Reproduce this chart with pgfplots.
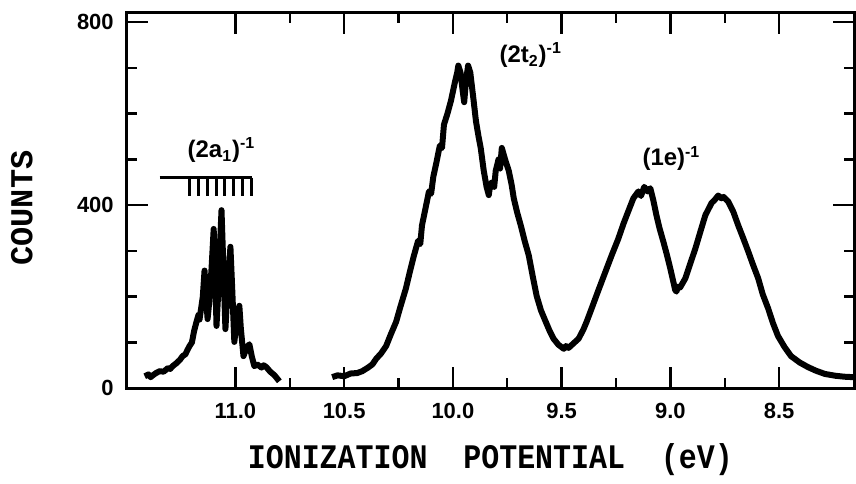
\documentclass[border=0pt]{standalone}
\usepackage{fontspec}
\setsansfont{Liberation Sans}
\newfontfamily\labfont{Liberation Mono}
\usepackage{pgfplots}
\pgfplotsset{compat=1.18}

% left band, (2a1)^-1 with its vibrational structure
\pgfplotstableread{
E counts
11.417 26
11.400 30
11.390 24
11.380 28
11.365 33
11.349 37
11.330 36
11.310 44
11.300 42
11.289 48
11.270 55
11.255 62
11.243 70
11.230 74
11.220 84
11.211 92
11.200 100
11.190 125
11.179 145
11.170 160
11.165 150
11.160 167
11.150 200
11.142 257
11.135 200
11.128 151
11.120 190
11.110 260
11.100 348
11.093 250
11.087 136
11.080 200
11.072 300
11.064 389
11.055 260
11.046 129
11.038 200
11.030 260
11.023 309
11.015 220
11.005 101
10.998 130
10.990 160
10.982 180
10.975 130
10.963 70
10.955 80
10.945 90
10.936 96
10.925 70
10.913 48
10.900 52
10.880 45
10.870 50
10.858 46
10.840 36
10.820 28
10.798 15
}\bandA

% main scan, (2t2)^-1 and (1e)^-1
\pgfplotstableread{
E counts
10.555 24
10.530 28
10.500 26
10.470 32
10.440 33
10.417 37
10.390 45
10.370 52
10.353 64
10.330 76
10.307 92
10.285 118
10.261 145
10.240 180
10.216 218
10.200 250
10.179 290
10.160 322
10.150 315
10.142 356
10.125 395
10.110 430
10.100 425
10.090 462
10.078 488
10.060 530
10.050 525
10.041 576
10.025 600
10.009 628
9.990 670
9.980 690
9.975 705
9.965 690
9.955 650
9.948 625
9.940 670
9.930 705
9.920 690
9.905 630
9.894 584
9.882 550
9.872 525
9.858 475
9.845 440
9.835 422
9.828 445
9.820 450
9.810 440
9.803 475
9.790 500
9.783 480
9.775 525
9.760 500
9.743 475
9.730 445
9.720 415
9.705 385
9.688 356
9.670 322
9.651 290
9.635 250
9.615 202
9.595 170
9.573 145
9.555 125
9.537 108
9.515 95
9.490 86
9.480 92
9.468 88
9.445 98
9.422 108
9.400 128
9.385 145
9.362 174
9.330 215
9.298 255
9.270 290
9.239 327
9.215 360
9.193 387
9.170 415
9.147 430
9.135 420
9.120 440
9.105 430
9.092 437
9.078 410
9.064 378
9.050 350
9.032 320
9.015 290
9.000 261
8.985 230
8.978 215
8.972 211
8.965 222
8.955 220
8.931 240
8.910 270
8.885 305
8.860 345
8.839 378
8.810 405
8.795 412
8.780 421
8.765 415
8.755 418
8.734 408
8.710 385
8.688 356
8.665 328
8.642 299
8.620 270
8.596 240
8.575 205
8.550 174
8.528 142
8.505 114
8.475 90
8.445 70
8.405 56
8.367 46
8.330 38
8.289 31
8.240 27
8.200 25
8.160 24
}\bandB

\begin{document}
\begin{tikzpicture}
\begin{axis}[
    scale only axis, width=364.5pt, height=188pt,
    x dir=reverse, xmin=8.155, xmax=11.5, ymin=0, ymax=820,
    axis line style={line width=1.5pt},
    clip=false, unbounded coords=jump,
    xtick={8.5,9.0,9.5,10.0,10.5,11.0},
    xticklabels={8.5,9.0,9.5,10.0,10.5,11.0},
    minor x tick num=1,
    ytick={0,400,800}, yticklabels={0,400,800},
    minor y tick num=3,
    major tick length=10.5pt, minor tick length=5pt,
    every tick/.style={black, line width=1.2pt},
    tick align=inside,
    ticklabel style={font=\sffamily\bfseries\fontsize{11}{13}\selectfont},
    xticklabel style={yshift=-4pt},
    yticklabel style={xshift=-3pt},
    xlabel={IONIZATION\ \ POTENTIAL\ \ (eV)},
    ylabel={COUNTS},
    xlabel style={font=\labfont\bfseries\fontsize{15}{17}\selectfont, yscale=1.15, at={(axis description cs:0.5,-0.19)}, anchor=center},
    ylabel style={font=\labfont\bfseries\fontsize{16}{18}\selectfont, at={(axis description cs:-0.144,0.48)}, anchor=center},
]
\path (rel axis cs:-0.1742,-0.2553) rectangle (rel axis cs:1.0,1.0346);
\addplot[black, line width=3pt, line join=round] table[x=E, y=counts] {\bandA};
\addplot[black, line width=3pt, line join=round] table[x=E, y=counts] {\bandB};
% vibrational comb over the (2a1)^-1 band
\addplot[black, line width=1.3pt] coordinates {
  (11.349,460) (10.922,460) (nan,nan)
  (11.211,460) (11.211,421) (nan,nan)
  (11.170,460) (11.170,421) (nan,nan)
  (11.128,460) (11.128,421) (nan,nan)
  (11.087,460) (11.087,421) (nan,nan)
  (11.050,460) (11.050,421) (nan,nan)
  (11.009,460) (11.009,421) (nan,nan)
  (10.968,460) (10.968,421) (nan,nan)
  (10.927,460) (10.927,421)
};
\node[font=\sffamily\bfseries\fontsize{12}{14}\selectfont] at (axis cs:11.064,520) {(2a\textsubscript{1})\textsuperscript{-1}};
\node[font=\sffamily\bfseries\fontsize{12}{14}\selectfont] at (axis cs:9.642,728) {(2t\textsubscript{2})\textsuperscript{-1}};
\node[font=\sffamily\bfseries\fontsize{12}{14}\selectfont] at (axis cs:8.995,502) {(1e)\textsuperscript{-1}};
\end{axis}
\end{tikzpicture}
\end{document}
